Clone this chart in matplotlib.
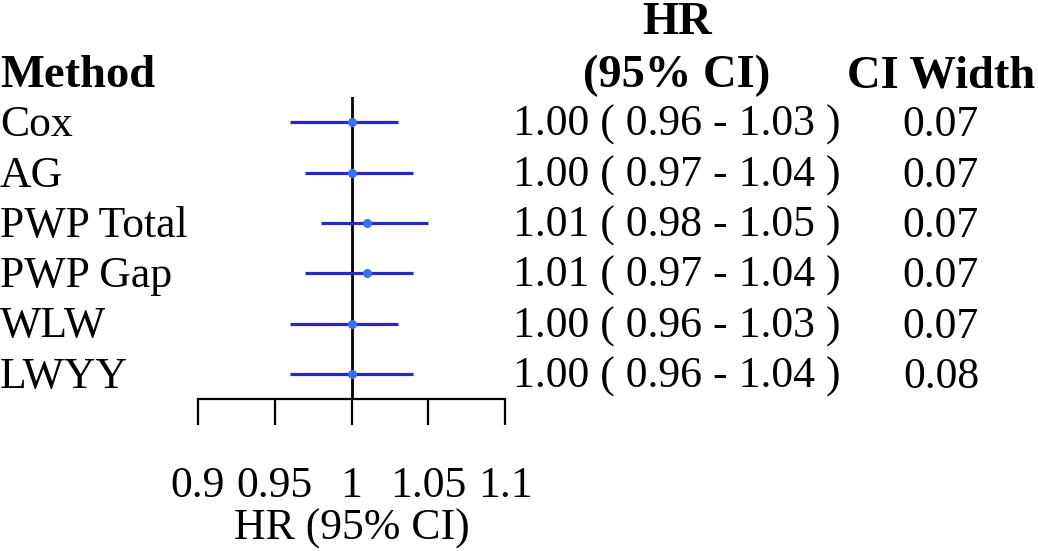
import matplotlib
matplotlib.use("Agg")
import matplotlib.pyplot as plt

methods = ["Cox", "AG", "PWP Total", "PWP Gap", "WLW", "LWYY"]
hr = [1.00, 1.00, 1.01, 1.01, 1.00, 1.00]
lower = [0.96, 0.97, 0.98, 0.97, 0.96, 0.96]
upper = [1.03, 1.04, 1.05, 1.04, 1.03, 1.04]
ci_width = [0.07, 0.07, 0.07, 0.07, 0.07, 0.08]
xticks = [0.9, 0.95, 1.0, 1.05, 1.1]
xtick_labels = ["0.9", "0.95", "1", "1.05", "1.1"]

W, H = 1038, 551
plt.rcParams["font.family"] = ["Liberation Serif", "DejaVu Serif"]
fig = plt.figure(figsize=(W / 100, H / 100), dpi=100)

def fx(px):
    return px / W

def fy(py):
    return 1 - py / H

# forest axes
ax = fig.add_axes([fx(198), fy(399), fx(505) - fx(198), fy(97) - fy(399)])
n = len(methods)
ypos = [n - i for i in range(n)]
ax.set_xlim(0.9, 1.1)
ax.set_ylim(0.5, n + 0.5)
ax.axvline(1.0, color="black", lw=2.0, zorder=1)
for y, h, lo, hi in zip(ypos, hr, lower, upper):
    ax.plot([lo, hi], [y, y], color="#2828c8", lw=2.3, solid_capstyle="butt", zorder=2)
    ax.plot([h], [y], "o", color="#3c6ef0", ms=6.5, mec="none", zorder=3)

for s in ["left", "top", "right"]:
    ax.spines[s].set_visible(False)
ax.spines["bottom"].set_linewidth(1.6)
ax.set_yticks([])
ax.set_xticks(xticks)
ax.set_xticklabels(xtick_labels)
fs = 31.5
fsh = 33.5
ax.tick_params(axis="x", direction="out", length=19, width=1.6, pad=29, labelsize=fs)
ax.set_xlabel("HR (95% CI)", fontsize=fs, labelpad=2)
ax.patch.set_visible(False)

dy = 3
# headers
fig.text(fx(0), fy(73 + dy), "Method", fontsize=fsh, fontweight="bold", ha="left", va="center")
fig.text(fx(677), fy(20 + dy), "HR", fontsize=fsh, fontweight="bold", ha="center", va="center")
fig.text(fx(677), fy(73 + dy), "(95% CI)", fontsize=fsh, fontweight="bold", ha="center", va="center")
fig.text(fx(941), fy(73 + dy), "CI Width", fontsize=fsh, fontweight="bold", ha="center", va="center")

for i, (m, h, lo, hi, w) in enumerate(zip(methods, hr, lower, upper, ci_width)):
    y = ypos[i]
    disp = ax.transData.transform((1.0, y))
    yf = fig.transFigure.inverted().transform(disp)[1] - dy / H
    fig.text(fx(0), yf, m, fontsize=fs, ha="left", va="center")
    fig.text(fx(677), yf, f"{h:.2f} ( {lo:.2f} - {hi:.2f} )", fontsize=fs, ha="center", va="center")
    fig.text(fx(941), yf, f"{w:.2f}", fontsize=fs, ha="center", va="center")

fig.savefig("out.png", dpi=100)
